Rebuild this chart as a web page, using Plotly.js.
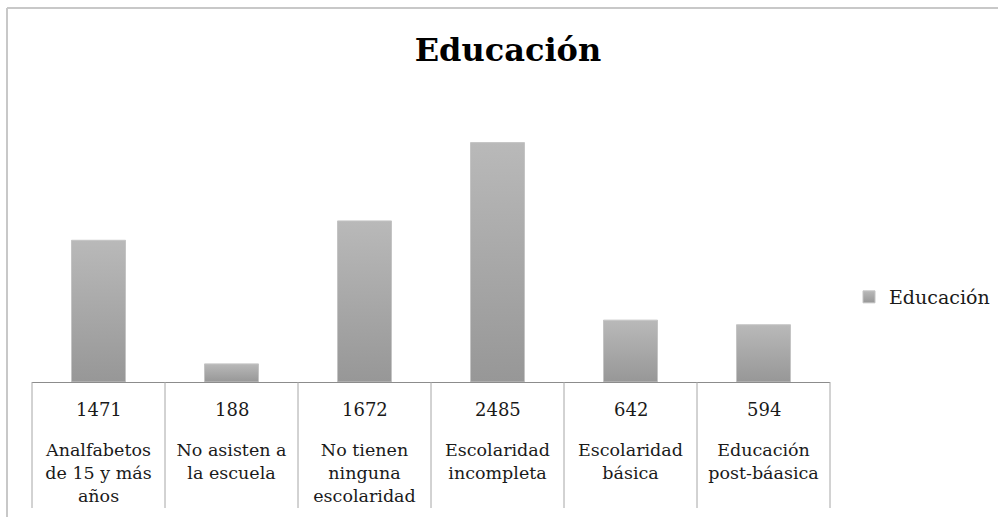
<!DOCTYPE html>
<html>
<head>
<meta charset="utf-8">
<script src="https://cdn.plot.ly/plotly-3.0.1.min.js"></script>
<style>html,body{margin:0;padding:0;background:#fff;}#chart{width:998px;height:517px;}</style>
</head>
<body>
<div id="chart"></div>
<script>
// Data
const categories = [
  "Analfabetos<br>de 15 y más<br>años",
  "No asisten a<br>la escuela",
  "No tienen<br>ninguna<br>escolaridad",
  "Escolaridad<br>incompleta",
  "Escolaridad<br>básica",
  "Educación<br>post-báasica"
];
const values = [1471, 188, 1672, 2485, 642, 594];
const seriesName = "Educación";
const chartTitle = "Educación";

const W = 998, H = 517;
const M = {l: 32, r: 168, t: 93, b: 135, autoexpand: false};
const plotW = W - M.l - M.r, plotH = H - M.t - M.b;
const px2x = p => (p - M.l) / plotW;
const px2y = p => (H - M.b - p) / plotH;

const xIdx = categories.map((_, i) => i);

const FONT = "DejaVu Serif";
const TXT = "#1a1a1a";
const lineCol = "#a6a6a6";

const shapes = [];
// outer chart frame (top and left visible)
shapes.push({type: "line", xref: "paper", yref: "paper", x0: px2x(7), x1: px2x(1100), y0: px2y(8), y1: px2y(8), line: {color: "#c8c8c8", width: 2}});
shapes.push({type: "line", xref: "paper", yref: "paper", x0: px2x(7), x1: px2x(7), y0: px2y(8), y1: px2y(600), line: {color: "#c8c8c8", width: 2}});
// data-table vertical dividers
for (let k = 0; k <= categories.length; k++) {
  shapes.push({type: "line", xref: "paper", yref: "paper", x0: k / categories.length, x1: k / categories.length, y0: 0, y1: px2y(508), line: {color: lineCol, width: 1}});
}

// data-table value row
const annotations = values.map((v, i) => ({
  x: xIdx[i], xref: "x", y: px2y(409), yref: "paper",
  text: String(v), showarrow: false, xanchor: "center", yanchor: "middle",
  font: {family: FONT, size: 18, color: TXT}
}));

const trace = {
  type: "bar",
  x: xIdx,
  y: values,
  name: seriesName,
  marker: {color: "#a8a8a8", line: {color: "#c4c4c4", width: 1}},
  showlegend: true,
  hoverinfo: "none"
};

const layout = {
  width: W, height: H,
  margin: M,
  paper_bgcolor: "#fff", plot_bgcolor: "#fff",
  font: {family: FONT, size: 17.5, color: TXT},
  title: {text: "<b>" + chartTitle + "</b>", font: {family: FONT, size: 32, color: "#000"}, x: 0.509, xanchor: "center", y: 1 - 50 / H, yanchor: "middle"},
  bargap: 0.594,
  xaxis: {
    range: [-0.5, categories.length - 0.5],
    tickmode: "array", tickvals: xIdx, ticktext: categories,
    showline: true, linecolor: "#8c8c8c", linewidth: 1,
    showgrid: false, zeroline: false, ticks: "",
    ticklabelstandoff: 52,
    tickfont: {family: FONT, size: 17.5, color: TXT},
    automargin: false
  },
  yaxis: {range: [0, 3000], visible: false, showgrid: false, zeroline: false},
  legend: {x: px2x(849), y: px2y(297), xanchor: "left", yanchor: "middle", font: {family: FONT, size: 19, color: TXT}, bgcolor: "rgba(0,0,0,0)"},
  shapes: shapes,
  annotations: annotations
};

Plotly.newPlot("chart", [trace], layout, {staticPlot: true}).then(gd => {
  const svg = gd.querySelector(".main-svg");
  const defs = svg.querySelector("defs");
  const ns = "http://www.w3.org/2000/svg";
  const g = document.createElementNS(ns, "linearGradient");
  g.setAttribute("id", "barGrad");
  g.setAttribute("x1", "0"); g.setAttribute("y1", "0");
  g.setAttribute("x2", "0"); g.setAttribute("y2", "1");
  [["0%", "#b9b9b9"], ["100%", "#979797"]].forEach(([o, c]) => {
    const s = document.createElementNS(ns, "stop");
    s.setAttribute("offset", o); s.setAttribute("stop-color", c);
    g.appendChild(s);
  });
  defs.appendChild(g);
  gd.querySelectorAll(".barlayer .point path").forEach(p => { p.style.fill = "url(#barGrad)"; });
  gd.querySelectorAll(".legend .legendpoints path").forEach(p => { p.style.fill = "url(#barGrad)"; });
});
</script>
</body>
</html>
